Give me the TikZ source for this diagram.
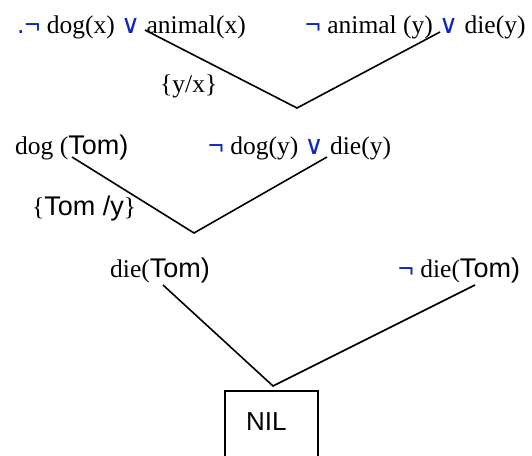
\documentclass[tikz,border=0pt]{standalone}
\usepackage{fontspec}
\setmainfont{Liberation Serif}
\setsansfont{Liberation Sans}
\newfontfamily\dvfont{DejaVu Sans}
\definecolor{opblue}{RGB}{10,40,190}
\newcommand\sn[1]{{\fontsize{27}{30}\selectfont\sffamily #1}}
\newcommand\negsym{\textcolor{opblue}{\sn{¬}}}
\newcommand\orsym{\textcolor{opblue}{{\dvfont\fontsize{26}{28}\selectfont ∨}}}
\begin{document}
\begin{tikzpicture}[x=1pt,y=-1pt,
  every node/.style={inner sep=0pt, font=\fontsize{25.5}{30}\selectfont},
  txt/.style={anchor=base west},
  edge/.style={line width=1.6pt}]
\useasboundingbox (0,0) rectangle (532,455);
\clip (0,0) rectangle (532,455);
% clauses
\node[txt] (c1) at (17,33) {\textcolor{opblue}{\sn{.¬}} dog(x) \orsym{} animal(x)};
\node[txt] (c2) at (305,33) {\negsym{} animal (y) \orsym{} die(y)};
\node[txt] (s1) at (160,92) {\{y/x\}};
\node[txt] (c3) at (15,154) {dog (\sn{Tom)}};
\node[txt] (c4) at (208,154) {\negsym{} dog(y) \orsym{} die(y)};
\node[txt] (s2) at (32,215) {\{\sn{Tom /y}\}};
\node[txt] (c5) at (110,277) {die(\sn{Tom)}};
\node[txt] (c6) at (398,277) {\negsym{} die(\sn{Tom)}};
\node[draw, line width=1.6pt, anchor=north west, minimum width=93pt, minimum height=100pt] (box) at (224,390) {};
\node[txt] (nil) at (246,430) {\sn{\fontsize{26}{30}\selectfont NIL}};
% connectors
\coordinate (a1) at (145,30); \coordinate (v1) at (297,108); \coordinate (b1) at (440,32);
\coordinate (a2) at (72,157); \coordinate (v2) at (194,233); \coordinate (b2) at (327,157);
\coordinate (a3) at (163,285); \coordinate (v3) at (273,386); \coordinate (b3) at (475,285);
\draw[edge] (a1) -- (v1) -- (b1);
\draw[edge] (a2) -- (v2) -- (b2);
\draw[edge] (a3) -- (v3) -- (b3);
\end{tikzpicture}
\end{document}
